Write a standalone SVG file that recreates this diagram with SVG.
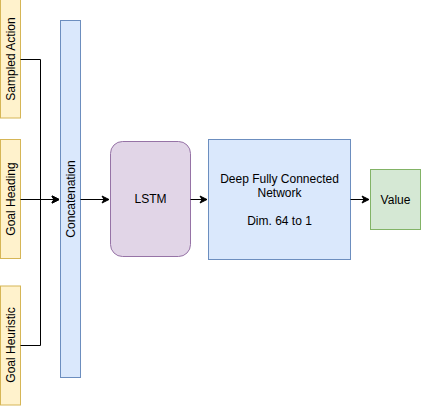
<svg xmlns="http://www.w3.org/2000/svg" width="421" height="406" viewBox="0 0 421 406">
<defs>
<style>
.y{fill:#fff2cc;stroke:#d6b656}
.b{fill:#dae8fc;stroke:#6c8ebf}
.p{fill:#e1d5e7;stroke:#9673a6}
.g{fill:#d5e8d4;stroke:#82b366}
text{font-family:"Liberation Sans",Arial,sans-serif;font-size:12px;fill:#000;text-anchor:middle;dominant-baseline:central}
.c{fill:none;stroke:#000;stroke-width:1}
</style>
<marker id="a" markerWidth="10" markerHeight="10" refX="8" refY="5" orient="auto" markerUnits="userSpaceOnUse">
<path d="M1,1.5 L8,5 L1,8.5 L3,5 Z" fill="#000" stroke="#000" stroke-width="1"/>
</marker>
</defs>
<g id="sampled-action"><rect class="y" x="0.5" y="-1" width="20" height="119"/><text transform="translate(11,59) rotate(-90)">Sampled Action</text></g>
<g id="goal-heading"><rect class="y" x="0.5" y="139.5" width="20" height="119"/><text transform="translate(11,199) rotate(-90)">Goal Heading</text></g>
<g id="goal-heuristic"><rect class="y" x="0.5" y="286" width="20" height="119"/><text transform="translate(11,345) rotate(-90)">Goal Heuristic</text></g>
<g id="concatenation"><rect class="b" x="60.5" y="20.5" width="20" height="357"/><text transform="translate(71,199) rotate(-90)">Concatenation</text></g>
<g id="lstm"><rect class="p" x="110.5" y="141.5" width="80" height="115" rx="12" ry="12"/><text x="150.5" y="199">LSTM</text></g>
<g id="dfc"><rect class="b" x="208.5" y="139.5" width="142" height="120"/><text x="279.5" y="179">Deep Fully Connected</text><text x="279.5" y="193">Network</text><text x="279.5" y="221">Dim. 64 to 1</text></g>
<g id="value"><rect class="g" x="370.5" y="169.5" width="50" height="60"/><text x="395.5" y="199.5">Value</text></g>
<g id="connectors">
<path class="c" d="M20.5,59.5 H40.5 V199.5 H59" marker-end="url(#a)"/>
<path class="c" d="M20.5,345.5 H40.5 V199.5 H59" marker-end="url(#a)"/>
<path class="c" d="M20.5,199.5 H59" marker-end="url(#a)"/>
<path class="c" d="M80.5,199.5 H109" marker-end="url(#a)"/>
<path class="c" d="M190.5,199.5 H207" marker-end="url(#a)"/>
<path class="c" d="M350.5,199.5 H369" marker-end="url(#a)"/>
</g>
</svg>
